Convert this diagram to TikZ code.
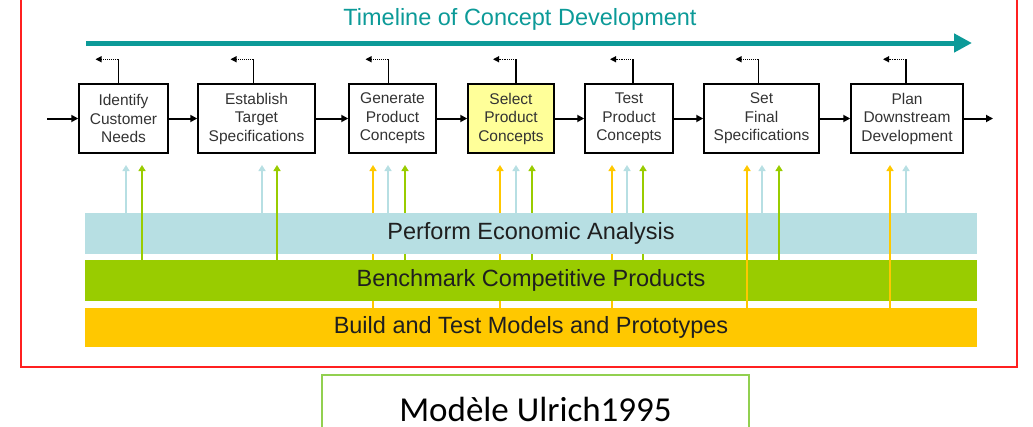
\documentclass[tikz,border=0pt]{standalone}
\usepackage{fontspec}
\setmainfont{Liberation Sans}
\newfontfamily\ulfont{Carlito}
\usetikzlibrary{arrows.meta,positioning}
\definecolor{tlteal}{HTML}{0C9A98}
\definecolor{bandblue}{HTML}{B7DFE3}
\definecolor{bandgreen}{HTML}{99CC00}
\definecolor{bandyellow}{HTML}{FFC800}
\definecolor{stepyellow}{HTML}{FFFF99}
\definecolor{frame}{HTML}{FF2020}
\definecolor{capgreen}{HTML}{92D050}

\begin{document}
\begin{tikzpicture}[x=1pt,y=-1pt,
 stepbox/.style={draw,line width=1.5pt,minimum height=69pt,inner sep=0pt,align=center,
  text=black!80,font=\fontsize{15.5}{18.5}\selectfont},
 band/.style={minimum width=892pt,inner sep=0pt,text=black!88,font=\fontsize{23.5}{28}\selectfont},
 flowarr/.style={line width=2pt,-{Triangle[length=7pt,width=7pt]}},
 fbline/.style={line width=1.3pt},
 fbarr/.style={line width=1.1pt,densely dotted,-{Triangle[length=6pt,width=6pt]}},
 uparr/.style={line width=1.8pt,-{Triangle[length=6pt,width=7pt]}}]
\useasboundingbox (0,0) rectangle (1033,426);
% frame and caption
\draw[frame,line width=1.5pt] (21,-5) -- (21,367) -- (1017,367) -- (1017,-5);
\draw[capgreen,line width=1.2pt] (322,440) -- (322,375) -- (749,375) -- (749,440);
\node[anchor=base,inner sep=0pt,font=\ulfont\fontsize{35}{38}\selectfont] (cap) at (535.5,421) {Modèle Ulrich1995};
% timeline
\node[text=tlteal,font=\fontsize{23.5}{28}\selectfont] (title) at (520,19) {Timeline of Concept Development};
\coordinate (tl0) at (86,43);
\coordinate (tl1) at (972,43);
\draw[tlteal,line width=5pt,-{Triangle[length=18pt,width=18pt]}] (tl0) -- (tl1);
% arrows hidden behind the bands
\foreach \x in {373,500,612}
 \draw[uparr,bandyellow] (\x,308) -- (\x,165);
\foreach \x in {405,532,643}
 \draw[uparr,bandgreen] (\x,260) -- (\x,165);
% bands
\node[band,fill=bandblue,minimum height=41pt] (pea) at (531,233.5) {Perform Economic Analysis};
\node[band,fill=bandgreen,minimum height=41pt] (bcp) at (531,280.5) {Benchmark Competitive Products};
\node[band,fill=bandyellow,minimum height=39pt] (btm) at (531,327.5) {Build and Test Models and Prototypes};
% arrows drawn over the bands
\foreach \x in {126,262,388,516,627,762,906}
 \draw[uparr,bandblue] (\x,0 |- pea.north) -- (\x,165);
\foreach \x in {142,277,779}
 \draw[uparr,bandgreen] (\x,0 |- bcp.north) -- (\x,165);
\foreach \x in {747,890}
 \draw[uparr,bandyellow] (\x,0 |- btm.north) -- (\x,165);
% steps
\node[stepbox,minimum width=89pt] (b1) at (123.5,118.5) {Identify\\Customer\\Needs};
\node[stepbox,minimum width=117pt] (b2) at (256.5,118.5) {Establish\\Target\\Specifications};
\node[stepbox,minimum width=87pt] (b3) at (392.5,118.5) {Generate\\Product\\Concepts};
\node[stepbox,minimum width=86pt,fill=stepyellow] (b4) at (511,118.5) {Select\\Product\\Concepts};
\node[stepbox,minimum width=88pt] (b5) at (629,118.5) {Test\\Product\\Concepts};
\node[stepbox,minimum width=115pt] (b6) at (761.5,118.5) {Set\\Final\\Specifications};
\node[stepbox,minimum width=112pt] (b7) at (907,118.5) {Plan\\Downstream\\Development};
\coordinate (in) at (47,118.5);
\coordinate (out) at (993,118.5);
\draw[flowarr] (in) -- (b1);
\foreach \i/\j in {1/2,2/3,3/4,4/5,5/6,6/7}
 \draw[flowarr] (b\i) -- (b\j);
\draw[flowarr] (b7) -- (out);
% feedback
\foreach \i/\d in {1/-5,2/-3,3/-4,4/5,5/4,6/-3,7/-1}{
 \draw[fbline] ([xshift=\d pt]b\i.north) -- ++(0,-24) coordinate (k\i);
 \draw[fbarr] (k\i) -- ++(-23,0);
}
\end{tikzpicture}
\end{document}
